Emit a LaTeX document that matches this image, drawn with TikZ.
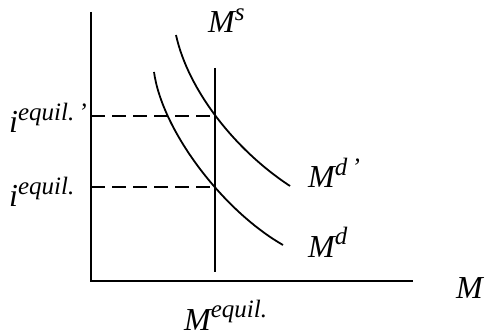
\documentclass[tikz,border=0pt]{standalone}
\usepackage{fontspec}
\setmainfont{Liberation Serif}
\usetikzlibrary{positioning}
\newcommand{\upidx}[1]{\raisebox{0.4em}{\fontsize{25}{28}\selectfont #1}}

\begin{document}
\begin{tikzpicture}[x=1pt, y=-1pt,
        axis/.style={line width=2.2pt},
        curve/.style={line width=1.8pt},
        guide/.style={line width=1.9pt, dash pattern=on 14pt off 7pt},
        lbl/.style={inner sep=0pt, anchor=base west, font=\fontsize{32}{38}\selectfont\itshape}
    ]
        \useasboundingbox (0,0) rectangle (486,336);

        % Axes
        \coordinate (origin) at (91,281);
        \coordinate (ytop) at (91,12);
        \coordinate (xend) at (413,281);
        \draw[axis] (ytop) -- (origin) -- (xend);

        % Money supply
        \coordinate (stop) at (215,68);
        \coordinate (sbot) at (215,272);
        \draw[axis] (stop) -- (sbot);

        % Money demand
        \coordinate (dnew) at (176,35);
        \coordinate (dnewend) at (290,186);
        \coordinate (dold) at (154,72);
        \coordinate (doldend) at (283,245);
        \draw[curve] (dnew) .. controls (188,90) and (235,150) .. (dnewend);
        \draw[curve] (dold) .. controls (162,130) and (222,210) .. (doldend);

        % Equilibria
        \coordinate (eqnew) at (215,116);
        \coordinate (eqold) at (215,187);
        \coordinate (inew) at (91,116);
        \coordinate (iold) at (91,187);
        \draw[guide] (inew) -- (eqnew);
        \draw[guide] (iold) -- (eqold);

        % Labels
        \node[lbl] (supply) at (208,33) {M\upidx{s}};
        \node[lbl] (demandnew) at (308,188) {M\upidx{d\,’}};
        \node[lbl] (demandold) at (308,257) {M\upidx{d}};
        \node[lbl] (xlabel) at (456,298) {M};
        \node[lbl] (mequil) at (184,330) {M\upidx{equil.}};
        \node[lbl] (inewlabel) at (9,133) {i\upidx{equil.\,’}};
        \node[lbl] (ioldlabel) at (9,207) {i\upidx{equil.}};
    \end{tikzpicture}
\end{document}
